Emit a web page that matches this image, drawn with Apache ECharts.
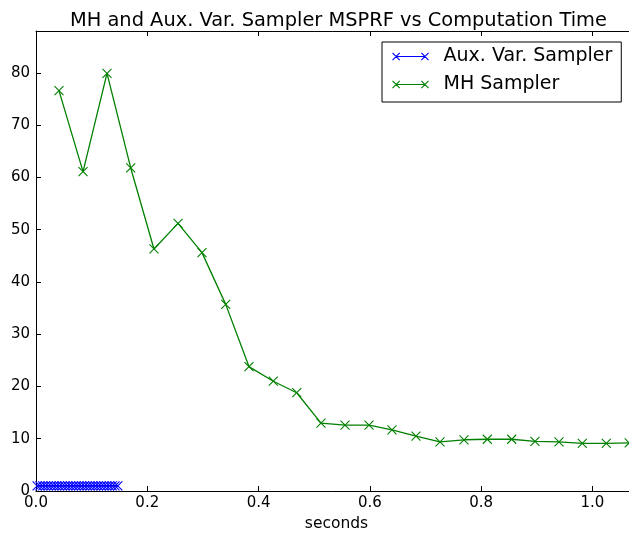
<!DOCTYPE html>
<html><head><meta charset="utf-8">
<script src="https://cdn.jsdelivr.net/npm/echarts@6/dist/echarts.min.js"></script>
<style>html,body{margin:0;padding:0;background:#fff}#c{width:629px;height:534px}</style>
</head><body><div id="c"></div>
<script>
var titleText = "MH and Aux. Var. Sampler MSPRF vs Computation Time";
var xAxisName = "seconds";
var auxX = [0.002,0.007,0.012,0.017,0.022,0.027,0.032,0.037,0.042,0.047,0.052,0.057,0.062,0.067,0.072,0.077,0.082,0.087,0.092,0.097,0.102,0.107,0.112,0.117,0.122,0.127,0.132,0.137,0.142,0.147];
var auxY = [1.0,1.0,1.0,1.0,1.0,1.0,1.0,1.0,1.0,1.0,1.0,1.0,1.0,1.0,1.0,1.0,1.0,1.0,1.0,1.0,1.0,1.0,1.0,1.0,1.0,1.0,1.0,1.0,1.0,1.0];
var mhX = [0.0413,0.0845,0.1276,0.1702,0.2120,0.2552,0.2983,0.3409,0.3827,0.4264,0.4685,0.5121,0.5553,0.5984,0.6397,0.6828,0.7260,0.7691,0.8110,0.8548,0.8967,0.9398,0.9817,1.0248,1.0660];
var mhY = [76.6,61.1,79.9,61.8,46.3,51.2,45.6,35.7,23.8,21.0,18.8,13.0,12.6,12.6,11.7,10.5,9.4,9.8,9.9,9.9,9.5,9.4,9.1,9.1,9.2];
var seriesNames = ["Aux. Var. Sampler","MH Sampler"];
var xTicks = [0,0.2,0.4,0.6,0.8,1.0];
var yTicks = [0,10,20,30,40,50,60,70,80];

function pairs(xs, ys){ return xs.map(function(x,i){return [x, ys[i]];}); }
var X = 'path://M0,0L10,10M10,0L0,10';
var F = "'DejaVu Sans', DejaVuSans, sans-serif";
var chart = echarts.init(document.getElementById('c'), null, {renderer:'canvas'});
function mkSeries(name, data, col){
  return {name:name, type:'line', data:data, symbol:X, symbolSize:9, showSymbol:true,
    lineStyle:{color:col,width:1.3}, itemStyle:{color:'rgba(0,0,0,0)',borderColor:col,borderWidth:1.1},
    animation:false, clip:true, emphasis:{disabled:true}};
}
var axLine = {show:true, lineStyle:{color:'#000',width:1}};
var legIcon = 'path://M0,0L8,8M8,0L0,8M4,4L36,4M32,0L40,8M40,0L32,8';
chart.setOption({
  animation:false,
  title:{text:titleText, left:65, top:6, textStyle:{fontFamily:F, fontSize:19.4, fontWeight:'normal', color:'#000'}},
  grid:{left:36, top:31, right:-8, bottom:43, containLabel:false, outerBoundsMode:'none'},
  legend:{show:true, left:382, top:42, orient:'vertical', itemGap:9, itemWidth:36, itemHeight:8,
    borderColor:'#000', borderWidth:1, padding:[5,9,8,10], backgroundColor:'#fff',
    textStyle:{fontFamily:F, fontSize:19, color:'#000', padding:[0,0,0,10]},
    data:[
      {name:seriesNames[0], icon:legIcon, itemStyle:{color:'rgba(0,0,0,0)',borderColor:'#0000ff',borderWidth:1.1}},
      {name:seriesNames[1], icon:legIcon, itemStyle:{color:'rgba(0,0,0,0)',borderColor:'#008000',borderWidth:1.1}}
    ]},
  xAxis:[{type:'value', min:0, max:1.08, interval:0.2, name:xAxisName, nameLocation:'middle', nameGap:25,
    nameTextStyle:{fontFamily:F, fontSize:15.5, color:'#000'},
    axisLine:axLine, axisTick:{show:true, inside:true, length:5, lineStyle:{color:'#000'}},
    axisLabel:{fontFamily:F, fontSize:15, color:'#000', margin:5, showMaxLabel:false,
      formatter:function(v){ return xTicks.indexOf(Math.round(v*10)/10)>=0 ? v.toFixed(1) : ''; }},
    splitLine:{show:false}},
    {type:'value', position:'top', min:0, max:1.08, interval:0.2, axisLine:axLine,
     axisTick:{show:true, inside:true, length:5, lineStyle:{color:'#000'}}, axisLabel:{show:false}, splitLine:{show:false}}],
  yAxis:[{type:'value', min:0, max:88, interval:10,
    axisLine:axLine, axisTick:{show:true, inside:true, length:5, lineStyle:{color:'#000'}},
    axisLabel:{fontFamily:F, fontSize:15, color:'#000', margin:6, showMaxLabel:false,
      formatter:function(v){ return yTicks.indexOf(v)>=0 ? String(v) : ''; }},
    splitLine:{show:false}}],
  series:[mkSeries(seriesNames[0], pairs(auxX,auxY), '#0000ff'), mkSeries(seriesNames[1], pairs(mhX,mhY), '#008000')]
});
</script></body></html>
